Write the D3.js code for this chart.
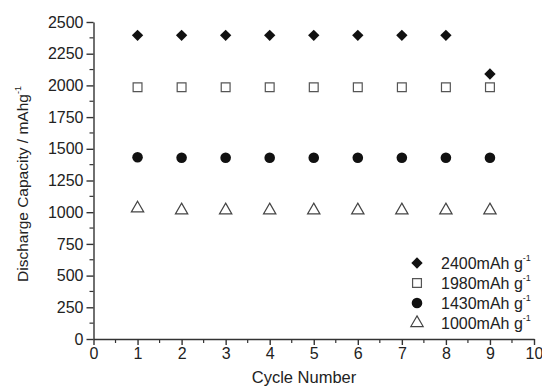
<!DOCTYPE html>
<html>
<head>
  <meta charset="utf-8">
  <script src="https://d3js.org/d3.v7.min.js"></script>
  <style>
    body { margin: 0; background: #fff; }
    text { font-family: "Liberation Sans", Arial, sans-serif; fill: #222; }
  </style>
</head>
<body>
<script>
  // cycle numbers and capacities per series (mAh/g)
  var cycles = [1, 2, 3, 4, 5, 6, 7, 8, 9];
  var cap2400 = [2395, 2395, 2395, 2395, 2395, 2395, 2395, 2395, 2090];
  var cap1980 = [1985, 1985, 1985, 1985, 1985, 1985, 1985, 1985, 1985];
  var cap1430 = [1433, 1430, 1430, 1430, 1430, 1430, 1430, 1430, 1430];
  var cap1000 = [1030, 1015, 1015, 1015, 1015, 1015, 1015, 1015, 1015];
  var seriesNames = ["2400mAh g", "1980mAh g", "1430mAh g", "1000mAh g"];
  var xTicks = [0, 1, 2, 3, 4, 5, 6, 7, 8, 9, 10];
  var yTicks = [0, 250, 500, 750, 1000, 1250, 1500, 1750, 2000, 2250, 2500];

  var W = 542, H = 386;
  var svg = d3.select("body").append("svg").attr("width", W).attr("height", H);

  var x = d3.scaleLinear().domain([0, 10]).range([93.5, 534]);
  var y = d3.scaleLinear().domain([0, 2500]).range([339, 22]);

  // minor ticks
  var g = svg.append("g").attr("stroke", "#333").attr("stroke-width", 1.2);
  d3.range(0, 10.01, 0.5).forEach(function (v) {
    if (v % 1 !== 0) g.append("line").attr("x1", x(v)).attr("x2", x(v)).attr("y1", 339).attr("y2", 343);
  });
  d3.range(0, 2501, 125).forEach(function (v) {
    if (v % 250 !== 0) g.append("line").attr("x1", 93.5).attr("x2", 89.5).attr("y1", y(v)).attr("y2", y(v));
  });

  var xAxis = svg.append("g").attr("transform", "translate(0,339)")
    .call(d3.axisBottom(x).tickValues(xTicks).tickFormat(d3.format("d"))
      .tickSize(6).tickSizeOuter(0).tickPadding(3));
  var yAxis = svg.append("g").attr("transform", "translate(93.5,0)")
    .call(d3.axisLeft(y).tickValues(yTicks).tickFormat(d3.format("d"))
      .tickSize(7).tickSizeOuter(0).tickPadding(3));
  [xAxis, yAxis].forEach(function (a) {
    a.attr("font-family", "Liberation Sans, Arial, sans-serif");
    a.selectAll("path, line").attr("stroke", "#333").attr("stroke-width", 1.4);
    a.selectAll("text").style("font-size", "16px").attr("fill", "#222");
  });

  svg.append("text").attr("x", 304).attr("y", 383).attr("text-anchor", "middle")
    .style("font-size", "16.5px").text("Cycle Number");
  var yl = svg.append("text").attr("transform", "translate(28,184) rotate(-90)")
    .attr("text-anchor", "middle").style("font-size", "15.5px");
  yl.append("tspan").text("Discharge Capacity / mAhg");
  yl.append("tspan").attr("dy", -7).style("font-size", "9px").text("-1");

  var shapes = [
    { data: cap2400, sym: d3.symbolDiamond2, size: 82, fill: "#111", stroke: "none" },
    { data: cap1980, sym: d3.symbolSquare, size: 78, fill: "#fff", stroke: "#555" },
    { data: cap1430, sym: d3.symbolCircle, size: 88, fill: "#111", stroke: "none" },
    { data: cap1000, sym: d3.symbolTriangle, size: 66, fill: "#fff", stroke: "#444" }
  ];

  shapes.forEach(function (s) {
    svg.append("g").selectAll("path").data(cycles).enter().append("path")
      .attr("d", d3.symbol().type(s.sym).size(s.size))
      .attr("transform", function (d, i) { return "translate(" + x(d) + "," + y(s.data[i]) + ")"; })
      .attr("fill", s.fill).attr("stroke", s.stroke).attr("stroke-width", 1.2);
  });

  // legend
  var legY = [263, 283, 303, 323];
  shapes.forEach(function (s, i) {
    svg.append("path").attr("d", d3.symbol().type(s.sym).size(s.size))
      .attr("transform", "translate(417," + legY[i] + ")")
      .attr("fill", s.fill).attr("stroke", s.stroke).attr("stroke-width", 1.2);
    var t = svg.append("text").attr("x", 441).attr("y", legY[i] + 6).style("font-size", "16px");
    t.append("tspan").text(seriesNames[i]);
    t.append("tspan").attr("dy", -8).style("font-size", "9px").text("-1");
  });
</script>
</body>
</html>
